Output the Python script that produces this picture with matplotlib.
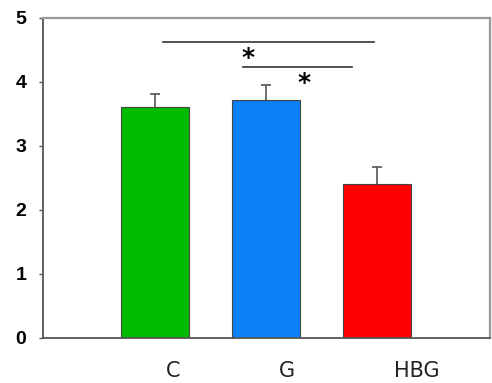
import numpy as np
import matplotlib.pyplot as plt

# Data
groups = ["C", "G", "HBG"]
means = [3.61, 3.72, 2.41]
errors = [0.20, 0.23, 0.26]
bar_colors = ["#00bb00", "#0a80f5", "#ff0000"]

# Significance brackets: (x start, x end, height) and star positions
sig_lines = [(0.07, 1.97, 4.62), (0.79, 1.78, 4.23)]
sig_stars = [(0.84, 4.38), (1.34, 3.98)]

label_offsets = [0.16, 0.19, 0.36]

figure_1 = plt.figure(figsize=(4.92, 3.83), dpi=100)
axis_1 = figure_1.add_axes([43 / 492, 1 - 338 / 383, 447 / 492, 320 / 383])

x_values = np.arange(len(groups))
axis_1.bar(x_values, means, width=0.61, color=bar_colors, edgecolor="#444444", linewidth=0.8, zorder=2)
# symmetric bars drawn under the bars so only the upper half shows
axis_1.errorbar(x_values, means, yerr=errors, fmt="none",
                ecolor="#555555", elinewidth=1.2, capsize=3.6, capthick=1.2, zorder=1)

# Significance lines and stars
for x_start, x_stop, height in sig_lines:
    axis_1.plot([x_start, x_stop], [height, height], color="#333333", linewidth=1.2)
for x_star, y_star in sig_stars:
    axis_1.text(x_star, y_star, "*", ha="center", va="center", fontsize=18, fontweight="bold")

# Group labels
for index, group in enumerate(groups):
    axis_1.text(index + label_offsets[index], -0.52, group, ha="center", va="center",
                fontsize=15, family="DejaVu Sans", color="#222222")

axis_1.set_xlim(-1.01, 3.02)
axis_1.set_ylim(0, 5)
axis_1.set_xticks([])
axis_1.set_yticks([0, 1, 2, 3, 4, 5])
axis_1.tick_params(axis="y", length=3, width=1, color="#555555", pad=9)
for label in axis_1.get_yticklabels():
    label.set_fontsize(14)
    label.set_fontweight("bold")
    label.set_family("Liberation Sans")

for side in ["left", "bottom"]:
    axis_1.spines[side].set_color("#555555")
    axis_1.spines[side].set_linewidth(1.3)
for side in ["top", "right"]:
    axis_1.spines[side].set_color("#999999")
    axis_1.spines[side].set_linewidth(1.6)

plt.savefig("out.png", dpi=100)
